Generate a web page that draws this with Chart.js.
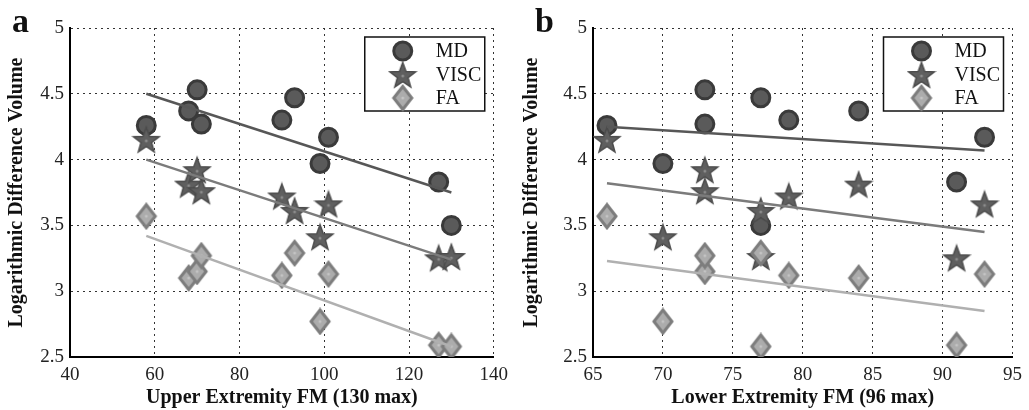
<!DOCTYPE html>
<html>
<head>
<meta charset="utf-8">
<script src="https://cdn.jsdelivr.net/npm/chart.js@4.4.1/dist/chart.umd.min.js"></script>
<style>
    html, body { margin: 0; padding: 0; background: #fff; }
    #wrap { width: 1029px; height: 410px; position: relative; }
    .panel { position: absolute; top: 0; height: 410px; }
    #panelA { left: 0; width: 515px; }
    #panelB { left: 515px; width: 514px; }
</style>
</head>
<body>
<div id="wrap">
    <div class="panel" id="panelA"><canvas id="chartA"></canvas></div>
    <div class="panel" id="panelB"><canvas id="chartB"></canvas></div>
</div>
<script>
// values (one entry per subject)
const ueFM = [58, 68, 70, 71, 90, 93, 99, 101, 127, 130];
const leFM = [66, 84, 73, 73, 79, 77, 70, 93, 91, 77];
const mdVals = [4.26, 4.37, 4.53, 4.27, 4.30, 4.47, 3.97, 4.17, 3.83, 3.50];
const viscVals = [4.15, 3.81, 3.92, 3.76, 3.72, 3.61, 3.41, 3.66, 3.25, 3.26];
const faVals = [3.57, 3.10, 3.15, 3.27, 3.12, 3.29, 2.77, 3.13, 2.59, 2.58];

// fitted line end points
const ueFitX = [58, 130];
const ueFitMD = [4.50, 3.75];
const ueFitVISC = [4.00, 3.24];
const ueFitFA = [3.42, 2.58];
const leFitX = [66, 93];
const leFitMD = [4.25, 4.07];
const leFitVISC = [3.82, 3.45];
const leFitFA = [3.23, 2.85];

const seriesNames = ['MD', 'VISC', 'FA'];

const serif = "'Liberation Serif', 'Times New Roman', serif";

// marker images
function makeStar() {
    const c = document.createElement('canvas');
    c.width = 30; c.height = 30;
    const g = c.getContext('2d');
    g.beginPath();
    for (let i = 0; i < 10; i++) {
        const r = i % 2 === 0 ? 13.5 : 5.6;
        const a = -Math.PI / 2 + i * Math.PI / 5;
        const px = 15 + r * Math.cos(a), py = 16 + r * Math.sin(a);
        if (i === 0) g.moveTo(px, py); else g.lineTo(px, py);
    }
    g.closePath();
    g.fillStyle = '#5f5f5f';
    g.fill();
    g.lineWidth = 1.5;
    g.strokeStyle = '#4c4c4c';
    g.stroke();
    g.fillStyle = '#8c8c8c';
    g.beginPath(); g.arc(15, 16, 1.5, 0, Math.PI * 2); g.fill();
    return c;
}

function makeDiamond() {
    const c = document.createElement('canvas');
    c.width = 24; c.height = 28;
    const g = c.getContext('2d');
    g.beginPath();
    g.moveTo(12, 2.5);
    g.lineTo(21, 14);
    g.lineTo(12, 25.5);
    g.lineTo(3, 14);
    g.closePath();
    g.fillStyle = '#acacac';
    g.fill();
    g.lineWidth = 3;
    g.strokeStyle = '#7d7d7d';
    g.stroke();
    g.fillStyle = '#c4c4c4';
    g.beginPath(); g.arc(12, 14, 1.5, 0, Math.PI * 2); g.fill();
    return c;
}

const starImg = makeStar();
const diamondImg = makeDiamond();

function pts(xs, ys) {
    return xs.map((x, i) => ({x: x, y: ys[i]}));
}

// legend box + panel letter drawn inside the plot
const figureExtras = {
    id: 'figureExtras',
    afterDraw(chart, args, opts) {
        const ctx = chart.ctx;
        const area = chart.chartArea;
        const bw = 120, bh = 74;
        const bx = area.right - 9 - bw, by = area.top + 9;
        ctx.save();
        ctx.fillStyle = '#fff';
        ctx.fillRect(bx, by, bw, bh);
        ctx.lineWidth = 1.5;
        ctx.strokeStyle = '#111';
        ctx.strokeRect(bx, by, bw, bh);

        const mx = bx + 38;
        const rows = [by + 14, by + 38, by + 61];
        // circle
        ctx.beginPath();
        ctx.arc(mx, rows[0], 9, 0, Math.PI * 2);
        ctx.fillStyle = '#5a5a5a';
        ctx.fill();
        ctx.lineWidth = 3;
        ctx.strokeStyle = '#3a3a3a';
        ctx.stroke();
        ctx.drawImage(starImg, mx - starImg.width / 2, rows[1] - starImg.height / 2);
        ctx.drawImage(diamondImg, mx - diamondImg.width / 2, rows[2] - diamondImg.height / 2);

        ctx.fillStyle = '#111';
        ctx.font = '20px ' + serif;
        ctx.textBaseline = 'middle';
        ctx.textAlign = 'left';
        seriesNames.forEach((n, i) => ctx.fillText(n, bx + 71, rows[i] + 1));

        ctx.font = 'bold 34px ' + serif;
        ctx.textBaseline = 'alphabetic';
        ctx.fillText(opts.letter, opts.letterX, 32);
        ctx.restore();
    }
};

function buildChart(id, xs, fitX, fits, xMin, xMax, xStep, xTitle, yWidth, padRight, letter, letterX) {
    const lineColors = ['#575757', '#7b7b7b', '#b0b0b0'];
    const datasets = [];
    fits.forEach((f, i) => {
        datasets.push({
            type: 'line',
            data: pts(fitX, f),
            borderColor: lineColors[i],
            borderWidth: 2.5,
            pointRadius: 0,
            fill: false,
            order: 0
        });
    });
    datasets.push({
        label: 'FA',
        data: pts(xs, faVals),
        pointStyle: diamondImg,
        order: 1
    });
    datasets.push({
        label: 'VISC',
        data: pts(xs, viscVals),
        pointStyle: starImg,
        order: 2
    });
    datasets.push({
        label: 'MD',
        data: pts(xs, mdVals),
        pointStyle: 'circle',
        pointRadius: 9,
        pointBackgroundColor: '#5a5a5a',
        pointBorderColor: '#3a3a3a',
        pointBorderWidth: 3,
        order: 3
    });

    const gridStyle = {
        color: '#333',
        lineWidth: 1,
        drawTicks: false
    };

    return new Chart(document.getElementById(id), {
        type: 'scatter',
        data: {datasets: datasets},
        options: {
            responsive: true,
            maintainAspectRatio: false,
            animation: false,
            layout: {padding: {top: 28, right: padRight, left: 0, bottom: 0}},
            plugins: {
                legend: {display: false},
                tooltip: {enabled: false},
                figureExtras: {letter: letter, letterX: letterX}
            },
            scales: {
                x: {
                    type: 'linear',
                    min: xMin,
                    max: xMax,
                    ticks: {
                        stepSize: xStep,
                        color: '#222',
                        padding: 7,
                        font: {family: serif, size: 19}
                    },
                    grid: gridStyle,
                    border: {display: true, color: '#000', width: 2, dash: [2, 4]},
                    title: {
                        display: true,
                        text: xTitle,
                        color: '#111',
                        padding: {top: 0, bottom: 0},
                        font: {family: serif, size: 20, weight: 'bold'}
                    },
                    afterFit: function(scale) { scale.height = 53; }
                },
                y: {
                    type: 'linear',
                    min: 2.5,
                    max: 5,
                    ticks: {
                        stepSize: 0.5,
                        color: '#222',
                        padding: 6,
                        font: {family: serif, size: 19},
                        callback: v => String(v)
                    },
                    grid: gridStyle,
                    border: {display: true, color: '#000', width: 2, dash: [2, 4]},
                    title: {
                        display: true,
                        text: 'Logarithmic Difference Volume',
                        color: '#111',
                        padding: {top: 5, bottom: 0},
                        font: {family: serif, size: 20, weight: 'bold'}
                    },
                    afterFit: function(scale) { scale.width = yWidth; }
                }
            }
        },
        plugins: [figureExtras]
    });
}

buildChart('chartA', ueFM, ueFitX, [ueFitMD, ueFitVISC, ueFitFA], 40, 140, 20,
    'Upper Extremity FM (130 max)', 70, 19, 'a', 12);
buildChart('chartB', leFM, leFitX, [leFitMD, leFitVISC, leFitFA], 65, 95, 5,
    'Lower Extremity FM (96 max)', 78, 10, 'b', 20);
</script>
</body>
</html>
